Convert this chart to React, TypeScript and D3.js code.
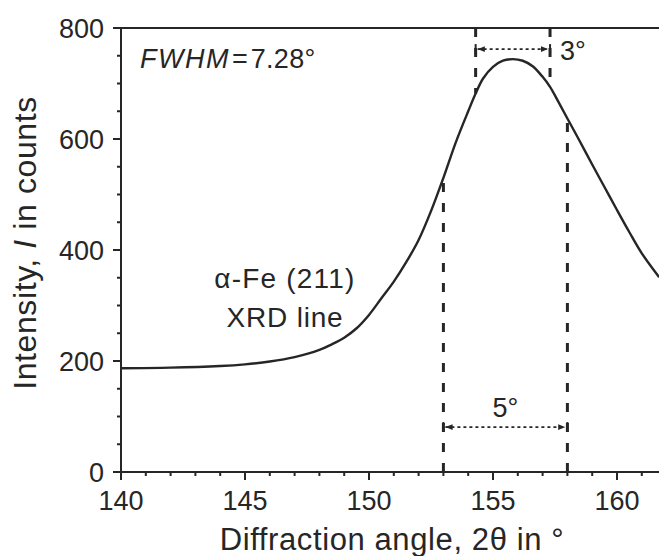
import { useEffect, useRef } from 'react';
import * as d3 from 'd3';

// diffraction angle (deg) and intensity (counts)
const angles = [140, 142, 144, 145, 146, 147, 148, 148.5, 149, 149.5, 150, 150.5, 151, 151.5, 152, 152.5, 153, 153.5, 154, 154.3, 154.6, 155, 155.4, 155.8, 156.2, 156.6, 157, 157.3, 157.6, 158, 158.5, 159, 159.5, 160, 160.5, 161, 161.7];
const counts = [187, 188, 191, 194, 199, 207, 220, 230, 242, 259, 283, 313, 343, 378, 418, 470, 530, 594, 650, 682, 709, 730, 741, 744, 741, 731, 712, 694, 670, 637, 596, 554, 513, 472, 432, 394, 351];

const xTicks = [140, 145, 150, 155, 160];
const yTicks = [0, 200, 400, 600, 800];

// annotation markers (deg) and the heights of their width arrows (counts)
const lowerMarks = [153, 158];
const upperMarks = [154.3, 157.3];
const lowerArrowY = 81;
const upperArrowY = 762;

const W = 659;
const H = 556;
const INK = '#262626';
const FONT = 'Liberation Sans, Arial, sans-serif';

function valueAt(a: number) {
    const i = d3.bisectLeft(angles, a);
    if (i <= 0) return counts[0];
    if (i >= angles.length) return counts[counts.length - 1];
    const t = (a - angles[i - 1]) / (angles[i] - angles[i - 1]);
    return counts[i - 1] + t * (counts[i] - counts[i - 1]);
}

export default function App() {
    const svgRef = useRef<SVGSVGElement>(null);

    useEffect(() => {
        const svg = d3.select(svgRef.current);
        svg.selectAll('*').remove();

        const x = d3.scaleLinear().domain([140, 160]).range([121, 617]);
        const y = d3.scaleLinear().domain([0, 800]).range([472, 28]);
        const xMax = x.invert(W);

        const defs = svg.append('defs');
        defs.append('marker')
            .attr('id', 'head')
            .attr('viewBox', '0 0 10 10')
            .attr('refX', 10).attr('refY', 5)
            .attr('markerWidth', 4).attr('markerHeight', 4)
            .attr('orient', 'auto-start-reverse')
            .append('path')
            .attr('d', 'M0,1 L10,5 L0,9 Z')
            .attr('fill', INK);

        const g = svg.append('g');

        // frame: top line
        g.append('line')
            .attr('x1', x(140)).attr('x2', W)
            .attr('y1', y(800)).attr('y2', y(800))
            .attr('stroke', INK).attr('stroke-width', 2);

        // y axis
        const yAxis = g.append('g').attr('transform', `translate(${x(140)},0)`);
        yAxis.append('line')
            .attr('y1', y(0)).attr('y2', y(800))
            .attr('stroke', INK).attr('stroke-width', 2);
        yAxis.selectAll('.ymin')
            .data(d3.range(0, 801, 50))
            .join('line')
            .attr('x1', d => (d % 200 === 0 ? -8 : -4)).attr('x2', 0)
            .attr('y1', d => y(d)).attr('y2', d => y(d))
            .attr('stroke', INK).attr('stroke-width', 2);
        yAxis.selectAll('.ylab')
            .data(yTicks)
            .join('text')
            .attr('x', -17)
            .attr('y', d => y(d))
            .attr('dy', '0.36em')
            .attr('text-anchor', 'end')
            .attr('font-size', 27)
            .attr('font-family', FONT)
            .attr('fill', INK)
            .text(d => d);

        // x axis
        const xAxis = g.append('g').attr('transform', `translate(0,${y(0)})`);
        xAxis.append('line')
            .attr('x1', x(140)).attr('x2', W)
            .attr('stroke', INK).attr('stroke-width', 2);
        xAxis.selectAll('.xmin')
            .data(d3.range(140, Math.floor(xMax) + 1, 1))
            .join('line')
            .attr('x1', d => x(d)).attr('x2', d => x(d))
            .attr('y1', 0).attr('y2', d => (d % 5 === 0 ? 8 : 4))
            .attr('stroke', INK).attr('stroke-width', 2);
        xAxis.selectAll('.xlab')
            .data(xTicks)
            .join('text')
            .attr('x', d => x(d))
            .attr('y', 38)
            .attr('text-anchor', 'middle')
            .attr('font-size', 27)
            .attr('font-family', FONT)
            .attr('fill', INK)
            .text(d => d);

        // axis titles
        g.append('text')
            .attr('x', 392).attr('y', 550)
            .attr('text-anchor', 'middle')
            .attr('font-size', 31)
            .attr('letter-spacing', 0.6)
            .attr('font-family', FONT)
            .attr('fill', INK)
            .text('Diffraction angle, 2θ in °');

        const yt = g.append('text')
            .attr('transform', 'translate(36,243) rotate(-90)')
            .attr('text-anchor', 'middle')
            .attr('font-size', 32)
            .attr('letter-spacing', 0.6)
            .attr('font-family', FONT)
            .attr('fill', INK);
        yt.append('tspan').text('Intensity, ');
        yt.append('tspan').attr('font-style', 'italic').text('I');
        yt.append('tspan').text(' in counts');

        // dashed marker lines
        lowerMarks.forEach(a => {
            g.append('line')
                .attr('x1', x(a)).attr('x2', x(a))
                .attr('y1', y(0)).attr('y2', y(valueAt(a)))
                .attr('stroke', INK).attr('stroke-width', 3)
                .attr('stroke-dasharray', '9,11');
        });
        upperMarks.forEach(a => {
            g.append('line')
                .attr('x1', x(a)).attr('x2', x(a))
                .attr('y1', y(800)).attr('y2', y(valueAt(a)))
                .attr('stroke', INK).attr('stroke-width', 3)
                .attr('stroke-dasharray', '9,11');
        });

        // width arrows
        const arrow = (marks: number[], v: number) => {
            g.append('line')
                .attr('x1', x(marks[0]) + 2).attr('x2', x(marks[1]) - 2)
                .attr('y1', y(v)).attr('y2', y(v))
                .attr('stroke', INK).attr('stroke-width', 1.8)
                .attr('stroke-dasharray', '3,3')
                .attr('marker-start', 'url(#head)')
                .attr('marker-end', 'url(#head)');
            marks.forEach(a => {
                g.append('line')
                    .attr('x1', x(a)).attr('x2', x(a))
                    .attr('y1', y(v) - 5).attr('y2', y(v) + 5)
                    .attr('stroke', INK).attr('stroke-width', 2);
            });
        };
        arrow(lowerMarks, lowerArrowY);
        arrow(upperMarks, upperArrowY);

        // intensity curve
        const line = d3.line<number>()
            .x((_, i) => x(angles[i]))
            .y(d => y(d))
            .curve(d3.curveCatmullRom.alpha(0.5));
        g.append('path')
            .datum(counts)
            .attr('d', line)
            .attr('fill', 'none')
            .attr('stroke', INK)
            .attr('stroke-width', 2.4);

        // annotations
        const fw = g.append('text')
            .attr('x', 140).attr('y', 68)
            .attr('font-size', 27)
            .attr('font-family', FONT)
            .attr('fill', INK);
        fw.append('tspan').attr('font-style', 'italic').attr('letter-spacing', 1.5).text('FWHM');
        fw.append('tspan').attr('dx', 2).text('=');
        fw.append('tspan').attr('dx', 3).attr('letter-spacing', 0.3).text('7.28°');

        g.append('text')
            .attr('x', x(upperMarks[1]) + 10).attr('y', 60)
            .attr('font-size', 27)
            .attr('font-family', FONT)
            .attr('fill', INK)
            .text('3°');

        g.append('text')
            .attr('x', (x(lowerMarks[0]) + x(lowerMarks[1])) / 2).attr('y', 417)
            .attr('text-anchor', 'middle')
            .attr('font-size', 27)
            .attr('font-family', FONT)
            .attr('fill', INK)
            .text('5°');

        g.append('text')
            .attr('x', 285).attr('y', 288)
            .attr('text-anchor', 'middle')
            .attr('font-size', 28)
            .attr('letter-spacing', 1.2)
            .attr('font-family', FONT)
            .attr('fill', INK)
            .text('α-Fe (211)');
        g.append('text')
            .attr('x', 285).attr('y', 327)
            .attr('text-anchor', 'middle')
            .attr('font-size', 28)
            .attr('letter-spacing', 0.8)
            .attr('font-family', FONT)
            .attr('fill', INK)
            .text('XRD line');
    }, []);

    return (
        <svg
            ref={svgRef}
            width={W}
            height={H}
            style={{ position: 'absolute', left: 0, top: 0, background: '#fff', display: 'block' }}
        />
    );
}
